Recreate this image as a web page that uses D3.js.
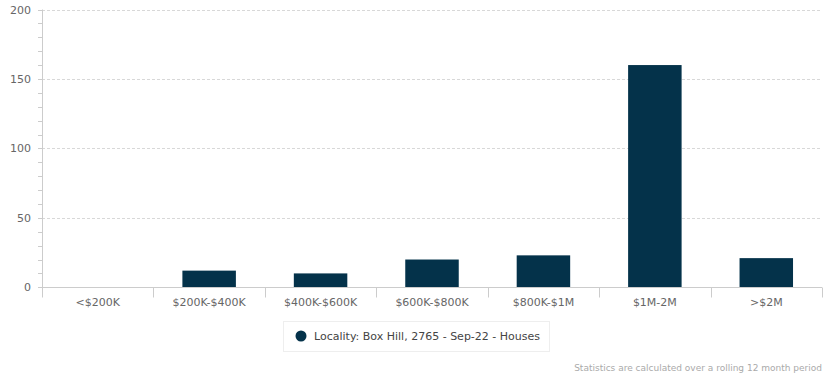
<!DOCTYPE html>
<html><head><meta charset="utf-8">
<script src="https://cdn.jsdelivr.net/npm/d3@7"></script>
<style>body{margin:0;background:#fff;font-family:"DejaVu Sans",sans-serif;}</style>
</head><body>
<svg id="c" width="833" height="380"></svg>
<script>
const categories = ["<$200K","$200K-$400K","$400K-$600K","$600K-$800K","$800K-$1M","$1M-2M",">$2M"];
const values = [0,12,10,20,23,160,21];
const yTicks = [0,50,100,150,200];
const seriesName = "Locality: Box Hill, 2765 - Sep-22 - Houses";
const footer = "Statistics are calculated over a rolling 12 month period";

const svg = d3.select("#c");
const m = {l:42, r:11, t:10, b:92.7};
const W = 833, H = 380;
const x = d3.scaleBand().domain(categories).range([m.l, W - m.r]).paddingInner(0).paddingOuter(0);
const y = d3.scaleLinear().domain([0,200]).range([287.3, 9.5]);
const color = "#04324a";

// gridlines
svg.append("g").selectAll("line").data(yTicks.filter(d=>d>0)).join("line")
  .attr("x1", m.l).attr("x2", W - m.r)
  .attr("y1", d=>Math.round(y(d))+0.5).attr("y2", d=>Math.round(y(d))+0.5)
  .attr("stroke","#d8d8d8").attr("stroke-dasharray","3,2");

// bars
const bw = x.bandwidth()*0.48;
svg.append("g").selectAll("rect").data(values).join("rect")
  .attr("x",(d,i)=>x(categories[i]) + (x.bandwidth()-bw)/2)
  .attr("width", bw)
  .attr("y", d=>y(d))
  .attr("height", d=>y(0)-y(d))
  .attr("fill", color);

// y axis
const ya = svg.append("g");
ya.append("line").attr("x1",m.l+0.5).attr("x2",m.l+0.5).attr("y1",y(200)).attr("y2",297).attr("stroke","#ccc");
const minor = d3.range(0,201,10);
ya.selectAll("line.minor").data(minor).join("line").attr("class","minor")
  .attr("x1",m.l-4).attr("x2",m.l).attr("y1",d=>Math.round(y(d))+0.5).attr("y2",d=>Math.round(y(d))+0.5)
  .attr("stroke","#ccc");
ya.selectAll("text").data(yTicks).join("text")
  .attr("x", 31).attr("y", d=>y(d)+4)
  .attr("text-anchor","end").attr("fill","#666").attr("font-size","11px").text(d=>d);

// x axis
const xa = svg.append("g").attr("transform",`translate(0,${Math.round(y(0))+0.5})`);
xa.append("line").attr("x1",m.l).attr("x2",W-m.r).attr("stroke","#ccc");
const bounds = categories.map(c=>x(c)).concat([W-m.r]);
xa.selectAll("line.t").data(bounds).join("line").attr("class","t")
  .attr("x1",d=>Math.round(d)+0.5).attr("x2",d=>Math.round(d)+0.5).attr("y1",0).attr("y2",10).attr("stroke","#ccc");
xa.selectAll("text").data(categories).join("text")
  .attr("x", c=>x(c)+x.bandwidth()/2).attr("y", 18)
  .attr("text-anchor","middle").attr("fill","#666").attr("font-size","11px").text(c=>c);

// legend
const lg = svg.append("g");
lg.append("rect").attr("x",283.5).attr("y",321.5).attr("width",266).attr("height",30)
  .attr("fill","#fff").attr("stroke","#eee");
lg.append("circle").attr("cx",301).attr("cy",336).attr("r",5.5).attr("fill",color);
lg.append("text").attr("x",314).attr("y",340).attr("fill","#444").attr("font-size","11px").text(seriesName);

svg.append("text").attr("x",822).attr("y",371).attr("text-anchor","end")
  .attr("fill","#aaa").attr("font-size","9px").text(footer);
</script>
</body></html>
